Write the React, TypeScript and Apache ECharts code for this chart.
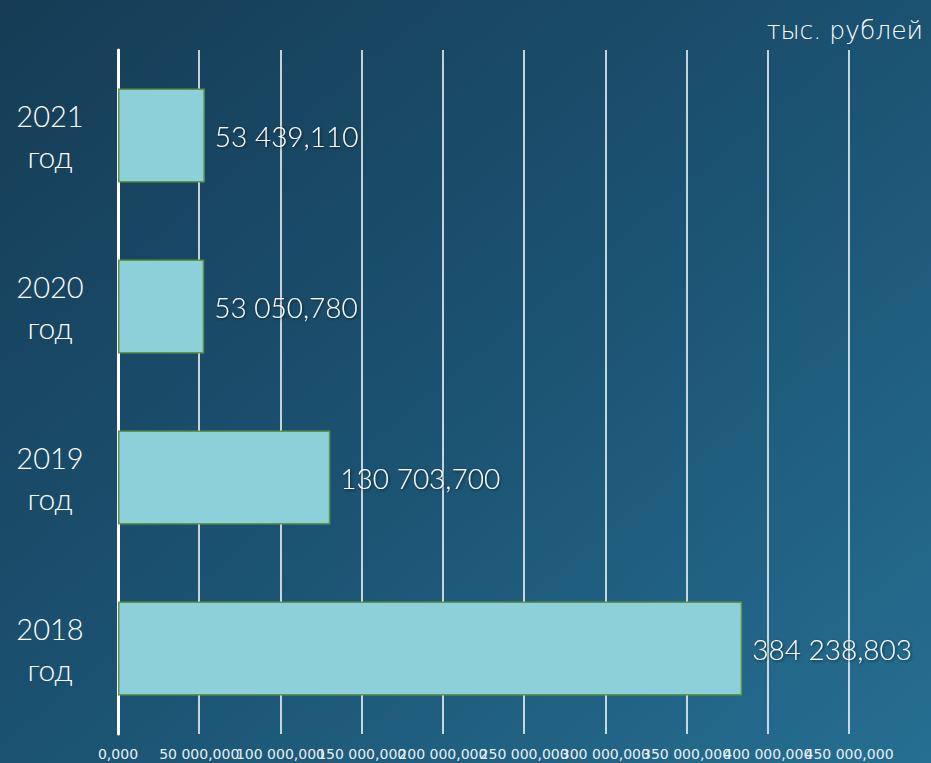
import React, { useEffect, useRef } from "react";
import * as echarts from "echarts";

const categories = ["2018", "2019", "2020", "2021"];
const values = [384238.803, 130703.7, 53050.78, 53439.11];
const unitLabel = "тыс. рублей";
const yearSuffix = "год";
const axisMax = 450000;
const axisStep = 50000;

function fmtInt(n: number): string {
  return Math.round(n).toString().replace(/\B(?=(\d{3})+(?!\d))/g, " ");
}
function fmtNum(v: number): string {
  const fixed = v.toFixed(3);
  const [i, d] = fixed.split(".");
  return fmtInt(Number(i)) + "," + d;
}

const FONT = "Lato, 'Open Sans', sans-serif";

const labelBase = {
  color: "#e8f0f4",
  fontSize: 14,
  fontFamily: "'DejaVu Sans', sans-serif",
  margin: 13,
  showMinLabel: true,
  showMaxLabel: true,
  hideOverlap: false,
};

export default function App() {
  const ref = useRef<HTMLDivElement>(null);
  useEffect(() => {
    document.body.style.margin = "0";
    const chart = echarts.init(ref.current!, null, { renderer: "svg" });
    chart.setOption({
      animation: false,
      backgroundColor: new echarts.graphic.LinearGradient(0, 0, 1, 1, [
        { offset: 0, color: "#163c55" },
        { offset: 0.5, color: "#1b5271" },
        { offset: 1, color: "#266f92" },
      ]),
      title: {
        text: unitLabel,
        right: 3,
        top: 13,
        textStyle: { color: "#ffffff", fontSize: 25, fontWeight: 300, fontFamily: "'DejaVu Sans', sans-serif" },
      },
      grid: { left: 118, right: 82, top: 50, bottom: 29 },
      xAxis: [
        {
          type: "value",
          position: "bottom",
          min: 0,
          max: axisMax,
          interval: axisStep,
          axisLine: { show: false },
          axisTick: { show: false },
          splitLine: { show: true, lineStyle: { color: "#ffffff", width: 1.5 } },
          axisLabel: {
            ...labelBase,
            formatter: (v: number) => (Math.round(v / axisStep) % 2 === 0 ? fmtNum(v) : ""),
          },
        },
        {
          type: "value",
          position: "bottom",
          offset: 0,
          min: 0,
          max: axisMax,
          interval: axisStep,
          axisLine: { show: false },
          axisTick: { show: false },
          splitLine: { show: false },
          axisLabel: {
            ...labelBase,
            formatter: (v: number) => (Math.round(v / axisStep) % 2 === 1 ? fmtNum(v) : ""),
          },
        },
      ],
      yAxis: {
        type: "category",
        data: categories,
        axisLine: { show: true, lineStyle: { color: "#ffffff", width: 3 } },
        axisTick: { show: false },
        axisLabel: {
          align: "center",
          margin: 68,
          formatter: (v: string) => `{y|${v}}\n{g|${yearSuffix}}`,
          rich: {
            y: { color: "#ffffff", fontSize: 29, fontFamily: FONT, fontWeight: 300, lineHeight: 40, align: "center" },
            g: { color: "#ffffff", fontSize: 30, fontFamily: FONT, fontWeight: 300, lineHeight: 40, align: "center" },
          },
        },
      },
      series: [
        {
          type: "bar",
          xAxisIndex: 0,
          data: values,
          barWidth: "55%",
          itemStyle: { color: "#8dd0da", borderColor: "#5e9645", borderWidth: 1.5 },
          label: {
            show: true,
            position: "right",
            distance: 10,
            color: "#ffffff",
            fontSize: 28,
            fontFamily: FONT,
            fontWeight: 300,
            textShadowColor: "rgba(0,0,0,0.6)",
            textShadowBlur: 3,
            textShadowOffsetX: 1,
            textShadowOffsetY: 1,
            formatter: (p: any) => fmtNum(p.value),
          },
        },
      ],
    });
    return () => chart.dispose();
  }, []);
  return <div ref={ref} style={{ width: 931, height: 763 }} />;
}
